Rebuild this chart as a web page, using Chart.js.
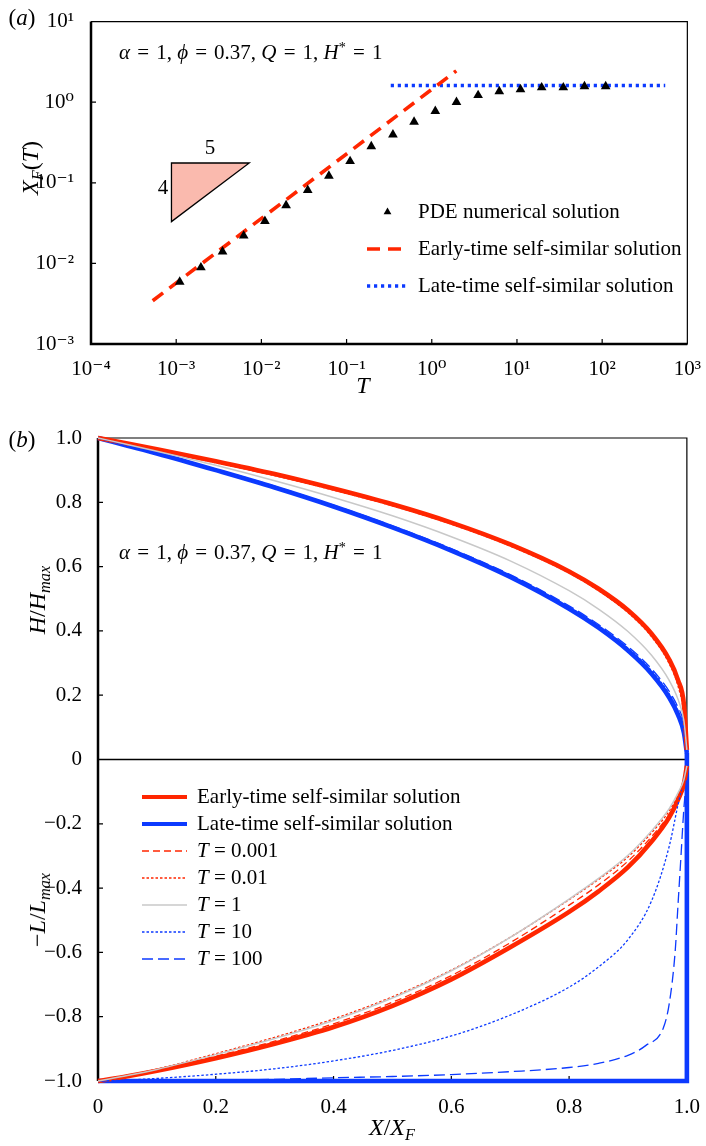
<!DOCTYPE html>
<html>
<head>
<meta charset="utf-8">
<script src="https://cdn.jsdelivr.net/npm/chart.js@4.4.0/dist/chart.umd.min.js"></script>
<style>
  body { margin: 0; background: #fff; width: 706px; height: 1146px; position: relative; overflow: hidden;
         font-family: "Liberation Serif", "DejaVu Serif", serif; color: #000; }
  canvas { position: absolute; left: 0; }
  #chartA { top: 0; }
  #chartB { top: 400px; }
  .t { position: absolute; white-space: nowrap; line-height: 1; transform: translate(-50%, -50%); }
  .rot { transform: translate(-50%, -50%) rotate(-90deg); }
  .l { position: absolute; white-space: nowrap; line-height: 1; transform: translateY(-50%); }
  .eq { padding: 0 0.34em; }
  sub { font-size: 68%; vertical-align: -0.28em; line-height: 0; }
  sup { font-size: 68%; vertical-align: 0.45em; line-height: 0; }
</style>
</head>
<body>
<canvas id="chartA" width="706" height="400"></canvas>
<canvas id="chartB" width="706" height="746"></canvas>

<div class="t" style="left:22px;top:17px;font-size:23px">(<i>a</i>)</div>
<div class="l" style="left:119px;top:52px;font-size:21px"><i>α</i><span class="eq">=</span>1, <i>ϕ</i><span class="eq">=</span>0.37, <i>Q</i><span class="eq">=</span>1, <i>H</i><sup>*</sup><span class="eq">=</span>1</div>
<div class="t" style="left:210px;top:147px;font-size:21px">5</div>
<div class="t" style="left:163px;top:187px;font-size:21px">4</div>
<div class="t rot" style="left:30px;top:168px;font-size:24px"><i>X<sub>F</sub></i>(<i>T</i>)</div>
<div class="t" style="left:363px;top:385px;font-size:24px"><i>T</i></div>

<div class="t" style="left:22px;top:439px;font-size:23px">(<i>b</i>)</div>
<div class="l" style="left:119px;top:552px;font-size:21px"><i>α</i><span class="eq">=</span>1, <i>ϕ</i><span class="eq">=</span>0.37, <i>Q</i><span class="eq">=</span>1, <i>H</i><sup>*</sup><span class="eq">=</span>1</div>
<div class="t rot" style="left:37px;top:600px;font-size:24px"><i>H</i>/<i>H<sub>max</sub></i></div>
<div class="t rot" style="left:37px;top:910px;font-size:24px">−<i>L</i>/<i>L<sub>max</sub></i></div>
<div class="t" style="left:392px;top:1127px;font-size:24px"><i>X</i>/<i>X<sub>F</sub></i></div>

<script>
'use strict';

// ---- panel (a) data ----
const T_TICKS = [1e-4, 1e-3, 1e-2, 1e-1, 1, 10, 100, 1000];
const XF_TICKS = [1e-3, 1e-2, 1e-1, 1, 10];

const T_PDE = [0.0011, 0.00195, 0.0035, 0.0062, 0.011, 0.0195, 0.035, 0.062, 0.11, 0.195, 0.35,
               0.62, 1.1, 1.95, 3.5, 6.2, 11, 19.5, 35, 62, 110];
const XF_PDE = [0.0059, 0.0089, 0.014, 0.022, 0.0334, 0.0525, 0.081, 0.122, 0.185, 0.283, 0.396,
                0.57, 0.776, 1.0, 1.22, 1.36, 1.44, 1.52, 1.52, 1.57, 1.57];

const T_EARLY = [0.00053, 1.94];
const XF_EARLY = [0.00344, 2.45];
const T_LATE = [0.33, 550];
const XF_LATE = [1.61, 1.61];

// slope triangle (5 across, 4 up)
const SLOPE_T = [0.00088, 0.0072, 0.00088];
const SLOPE_XF = [0.176, 0.176, 0.033];

// ---- panel (b) data ----
const XB_TICKS = [0, 0.2, 0.4, 0.6, 0.8, 1.0];
const XB_LABELS = ['0', '0.2', '0.4', '0.6', '0.8', '1.0'];
const YB_TICKS = [-1, -0.8, -0.6, -0.4, -0.2, 0, 0.2, 0.4, 0.6, 0.8, 1];
const YB_LABELS = ['−1.0', '−0.8', '−0.6', '−0.4', '−0.2', '0', '0.2', '0.4', '0.6', '0.8', '1.0'];

const XS = [0, 0.05, 0.1, 0.2, 0.3, 0.4, 0.5, 0.6, 0.7, 0.8, 0.85, 0.9, 0.94, 0.97, 0.985, 0.995, 1.0];

const H_EARLY = [1, 0.983, 0.965, 0.928, 0.888, 0.843, 0.794, 0.737, 0.669, 0.585, 0.531, 0.464, 0.391, 0.311, 0.247, 0.171, 0.03];
const H_LATE  = [1, 0.976, 0.952, 0.900, 0.846, 0.787, 0.722, 0.650, 0.568, 0.469, 0.410, 0.339, 0.267, 0.193, 0.139, 0.083, 0.02];
const H_T0001 = [1, 0.981, 0.962, 0.925, 0.885, 0.840, 0.791, 0.734, 0.666, 0.582, 0.528, 0.460, 0.386, 0.304, 0.237, 0.155, 0.03];
const H_T001  = [1, 0.980, 0.961, 0.923, 0.883, 0.838, 0.789, 0.732, 0.664, 0.580, 0.525, 0.457, 0.382, 0.298, 0.228, 0.140, 0.03];
const H_T1    = [1, 0.980, 0.959, 0.915, 0.867, 0.815, 0.758, 0.693, 0.618, 0.525, 0.468, 0.398, 0.324, 0.246, 0.187, 0.120, 0.03];
const H_T10   = [1, 0.977, 0.953, 0.902, 0.848, 0.790, 0.725, 0.654, 0.572, 0.474, 0.416, 0.346, 0.276, 0.204, 0.152, 0.097, 0.03];
const H_T100  = [1, 0.977, 0.954, 0.903, 0.850, 0.791, 0.727, 0.656, 0.575, 0.478, 0.420, 0.351, 0.282, 0.212, 0.162, 0.110, 0.03];

const L_EARLY = [-1, -0.985, -0.968, -0.929, -0.884, -0.832, -0.766, -0.684, -0.584, -0.474, -0.410, -0.335, -0.255, -0.180, -0.125, -0.075, -0.02];
const L_T0001 = [-1, -0.984, -0.966, -0.923, -0.876, -0.822, -0.755, -0.672, -0.570, -0.453, -0.390, -0.316, -0.240, -0.170, -0.118, -0.070, -0.02];
const L_T001  = [-1, -0.983, -0.963, -0.915, -0.864, -0.807, -0.738, -0.655, -0.553, -0.436, -0.373, -0.303, -0.228, -0.160, -0.110, -0.066, -0.02];
const L_T1    = [-1, -0.983, -0.964, -0.918, -0.868, -0.812, -0.742, -0.657, -0.553, -0.434, -0.370, -0.298, -0.222, -0.153, -0.104, -0.062, -0.02];
const L_T10   = [-1, -0.997, -0.992, -0.979, -0.962, -0.9375, -0.905, -0.860, -0.795, -0.708, -0.645, -0.560, -0.440, -0.270, -0.140, -0.060, -0.02];

const X_T100 = [0, 0.1, 0.2, 0.3, 0.4, 0.5, 0.6, 0.7, 0.8, 0.85, 0.9, 0.93, 0.96, 0.97, 0.98, 0.985, 0.99, 0.995, 1.0];
const L_T100 = [-1, -0.999, -0.998, -0.995, -0.99, -0.986, -0.98, -0.971, -0.958, -0.945, -0.92, -0.89, -0.835, -0.76, -0.6, -0.45, -0.3, -0.15, -0.05];

const X_LATE_LOW = [0, 1, 1];
const L_LATE = [-1, -1, 0.02];

const RED = 'rgb(255,38,0)';
const BLUE = 'rgb(12,58,255)';
const GREY = 'rgb(200,200,200)';
const FONT = '"Liberation Serif", "DejaVu Serif", serif';

const pts = (xs, ys) => xs.map((x, i) => ({ x: x, y: ys[i] }));

const SUP = { '-': '⁻', '0': '⁰', '1': '¹', '2': '²', '3': '³', '4': '⁴' };
function powLabel(v) {
  const e = String(Math.round(Math.log10(v)));
  return '10' + e.split('').map(c => SUP[c]).join('');
}

// frame, zero line, slope triangle and inward ticks
const framePlugin = {
  id: 'frame',
  beforeDatasetsDraw(chart, args, o) {
    const { ctx, chartArea: a, scales } = chart;
    ctx.save();
    ctx.strokeStyle = '#000';
    ctx.lineWidth = 1.2;
    ctx.beginPath();
    ctx.moveTo(a.left, a.top); ctx.lineTo(a.right, a.top); ctx.lineTo(a.right, a.bottom);
    ctx.lineTo(a.left, a.bottom);
    ctx.stroke();
    if (o.zero) {
      const y0 = scales.y.getPixelForValue(0);
      ctx.lineWidth = 1.5;
      ctx.beginPath(); ctx.moveTo(a.left, y0); ctx.lineTo(a.right, y0); ctx.stroke();
    }
    ctx.lineWidth = 2.5;
    ctx.beginPath();
    ctx.moveTo(a.left, a.top); ctx.lineTo(a.left, a.bottom);
    if (o.thickBottom) ctx.lineTo(a.right, a.bottom);
    ctx.stroke();
    ctx.lineWidth = 1.2;
    ctx.beginPath();
    scales.x.ticks.forEach(t => {
      const px = scales.x.getPixelForValue(t.value);
      if (px > a.left + 2 && px < a.right - 2) { ctx.moveTo(px, a.bottom); ctx.lineTo(px, a.bottom - 5); }
    });
    scales.y.ticks.forEach(t => {
      const py = scales.y.getPixelForValue(t.value);
      if (py > a.top + 2 && py < a.bottom - 2) { ctx.moveTo(a.left, py); ctx.lineTo(a.left + 5, py); }
    });
    ctx.stroke();

    if (o.slope) {
      const xs = o.slope.x, ys = o.slope.y;
      ctx.beginPath();
      xs.forEach((v, i) => {
        const px = scales.x.getPixelForValue(v), py = scales.y.getPixelForValue(ys[i]);
        if (i === 0) ctx.moveTo(px, py); else ctx.lineTo(px, py);
      });
      ctx.closePath();
      ctx.fillStyle = 'rgb(250,186,174)';
      ctx.fill();
      ctx.lineWidth = 1.3;
      ctx.stroke();
    }
    ctx.restore();
  }
};

function drawTri(ctx, x, y, r) {
  ctx.beginPath();
  ctx.moveTo(x, y - r);
  ctx.lineTo(x + r * 0.866, y + r * 0.5);
  ctx.lineTo(x - r * 0.866, y + r * 0.5);
  ctx.closePath();
  ctx.fill();
}

// legend drawn inside the plot area
const legendPlugin = {
  id: 'boxLegend',
  afterDatasetsDraw(chart, args, o) {
    if (!o.items) return;
    const ctx = chart.ctx;
    ctx.save();
    ctx.textBaseline = 'middle';
    o.items.forEach((it, i) => {
      const y = o.y + i * o.step;
      if (it.marker) {
        ctx.fillStyle = '#000';
        drawTri(ctx, (o.x0 + o.x1) / 2, y, 4.5);
      } else {
        ctx.strokeStyle = it.color;
        ctx.lineWidth = it.width;
        ctx.setLineDash(it.dash || []);
        ctx.beginPath(); ctx.moveTo(o.x0, y); ctx.lineTo(o.x1, y); ctx.stroke();
        ctx.setLineDash([]);
      }
      ctx.fillStyle = '#000';
      let x = o.tx;
      it.parts.forEach(p => {
        ctx.font = (p[1] ? 'italic ' : '') + o.size + 'px ' + FONT;
        ctx.fillText(p[0], x, y);
        x += ctx.measureText(p[0]).width;
      });
    });
    ctx.restore();
  }
};

const tickFont = { family: FONT, size: 21 };

// ---- panel (a) ----
new Chart(document.getElementById('chartA'), {
  type: 'scatter',
  data: {
    datasets: [
      { data: pts(T_PDE, XF_PDE), pointStyle: 'triangle', pointRadius: 5.6, backgroundColor: '#000',
        borderColor: '#000', borderWidth: 0, showLine: false, order: 0 },
      { data: pts(T_EARLY, XF_EARLY), showLine: true, pointRadius: 0, borderColor: RED, borderWidth: 3.6,
        borderDash: [13, 8], order: 1 },
      { data: pts(T_LATE, XF_LATE), showLine: true, pointRadius: 0, borderColor: BLUE, borderWidth: 3.6,
        borderDash: [3.2, 3.8], order: 1 }
    ]
  },
  options: {
    responsive: false,
    animation: false,
    layout: { padding: { top: 16, right: 16, left: 0, bottom: 0 } },
    plugins: {
      legend: { display: false },
      tooltip: { enabled: false },
      frame: { thickBottom: true, slope: { x: SLOPE_T, y: SLOPE_XF } },
      boxLegend: {
        x0: 367, x1: 408, tx: 418, y: 212, step: 37, size: 21,
        items: [
          { marker: true, parts: [['PDE numerical solution', false]] },
          { color: RED, width: 3.6, dash: [13, 8], parts: [['Early-time self-similar solution', false]] },
          { color: BLUE, width: 3.6, dash: [3.2, 3.8], parts: [['Late-time self-similar solution', false]] }
        ]
      }
    },
    scales: {
      x: {
        type: 'logarithmic', min: 1e-4, max: 1e3,
        grid: { display: false }, border: { display: false },
        afterBuildTicks: s => { s.ticks = T_TICKS.map(v => ({ value: v })); },
        afterFit: s => { s.height = 400 - 344; },
        ticks: { font: tickFont, color: '#000', padding: 5, maxRotation: 0, autoSkip: false, callback: v => powLabel(v) }
      },
      y: {
        type: 'logarithmic', min: 1e-3, max: 10,
        grid: { display: false }, border: { display: false },
        afterBuildTicks: s => { s.ticks = XF_TICKS.map(v => ({ value: v })); },
        afterFit: s => { s.width = 91; },
        ticks: { font: tickFont, color: '#000', padding: 9, autoSkip: false, callback: v => powLabel(v) }
      }
    }
  },
  plugins: [framePlugin, legendPlugin]
});

// ---- panel (b) ----
function thin(xs, ys, color, width, dash) {
  return { data: pts(xs, ys), showLine: true, pointRadius: 0, borderColor: color, borderWidth: width,
           borderDash: dash, cubicInterpolationMode: 'monotone', clip: false, order: 0 };
}
function thick(xs, ys, color, smooth) {
  return { data: pts(xs, ys), showLine: true, pointRadius: 0, borderColor: color, borderWidth: 4.6,
           cubicInterpolationMode: smooth ? 'monotone' : 'default', tension: 0, clip: false, order: 1 };
}

new Chart(document.getElementById('chartB'), {
  type: 'scatter',
  data: {
    datasets: [
      thin(XS, H_T1, GREY, 1.5, []),
      thin(XS, L_T1, GREY, 1.5, []),
      thin(XS, H_T0001, RED, 1.3, [7, 4]),
      thin(XS, L_T0001, RED, 1.3, [7, 4]),
      thin(XS, H_T001, RED, 1.3, [2.5, 2]),
      thin(XS, L_T001, RED, 1.3, [2.5, 2]),
      thin(XS, H_T10, BLUE, 1.3, [2.5, 2]),
      thin(XS, L_T10, BLUE, 1.3, [2.5, 2]),
      thin(XS, H_T100, BLUE, 1.3, [11, 5]),
      thin(X_T100, L_T100, BLUE, 1.3, [11, 5]),
      thick(XS, H_EARLY, RED, true),
      thick(XS, L_EARLY, RED, true),
      thick(XS, H_LATE, BLUE, true),
      thick(X_LATE_LOW, L_LATE, BLUE, false)
    ]
  },
  options: {
    responsive: false,
    animation: false,
    layout: { padding: { top: 38, right: 16, left: 0, bottom: 0 } },
    plugins: {
      legend: { display: false },
      tooltip: { enabled: false },
      frame: { zero: true, thickBottom: false },
      boxLegend: {
        x0: 142, x1: 187, tx: 197, y: 397, step: 27, size: 21,
        items: [
          { color: RED, width: 4.2, parts: [['Early-time self-similar solution', false]] },
          { color: BLUE, width: 4.2, parts: [['Late-time self-similar solution', false]] },
          { color: RED, width: 1.3, dash: [7, 4], parts: [['T', true], [' = 0.001', false]] },
          { color: RED, width: 1.3, dash: [2.5, 2], parts: [['T', true], [' = 0.01', false]] },
          { color: GREY, width: 1.5, parts: [['T', true], [' = 1', false]] },
          { color: BLUE, width: 1.3, dash: [2.5, 2], parts: [['T', true], [' = 10', false]] },
          { color: BLUE, width: 1.3, dash: [11, 5], parts: [['T', true], [' = 100', false]] }
        ]
      }
    },
    scales: {
      x: {
        type: 'linear', min: 0, max: 1,
        grid: { display: false }, border: { display: false },
        afterBuildTicks: s => { s.ticks = XB_TICKS.map(v => ({ value: v })); },
        afterFit: s => { s.height = 746 - 681; },
        ticks: { font: tickFont, color: '#000', padding: 6, maxRotation: 0, autoSkip: false,
                 callback: (v, i) => XB_LABELS[i] }
      },
      y: {
        type: 'linear', min: -1, max: 1,
        grid: { display: false }, border: { display: false },
        afterBuildTicks: s => { s.ticks = YB_TICKS.map(v => ({ value: v })); },
        afterFit: s => { s.width = 98; },
        ticks: { font: tickFont, color: '#000', padding: 8, autoSkip: false,
                 callback: (v, i) => YB_LABELS[i] }
      }
    }
  },
  plugins: [framePlugin, legendPlugin]
});
</script>
</body>
</html>
